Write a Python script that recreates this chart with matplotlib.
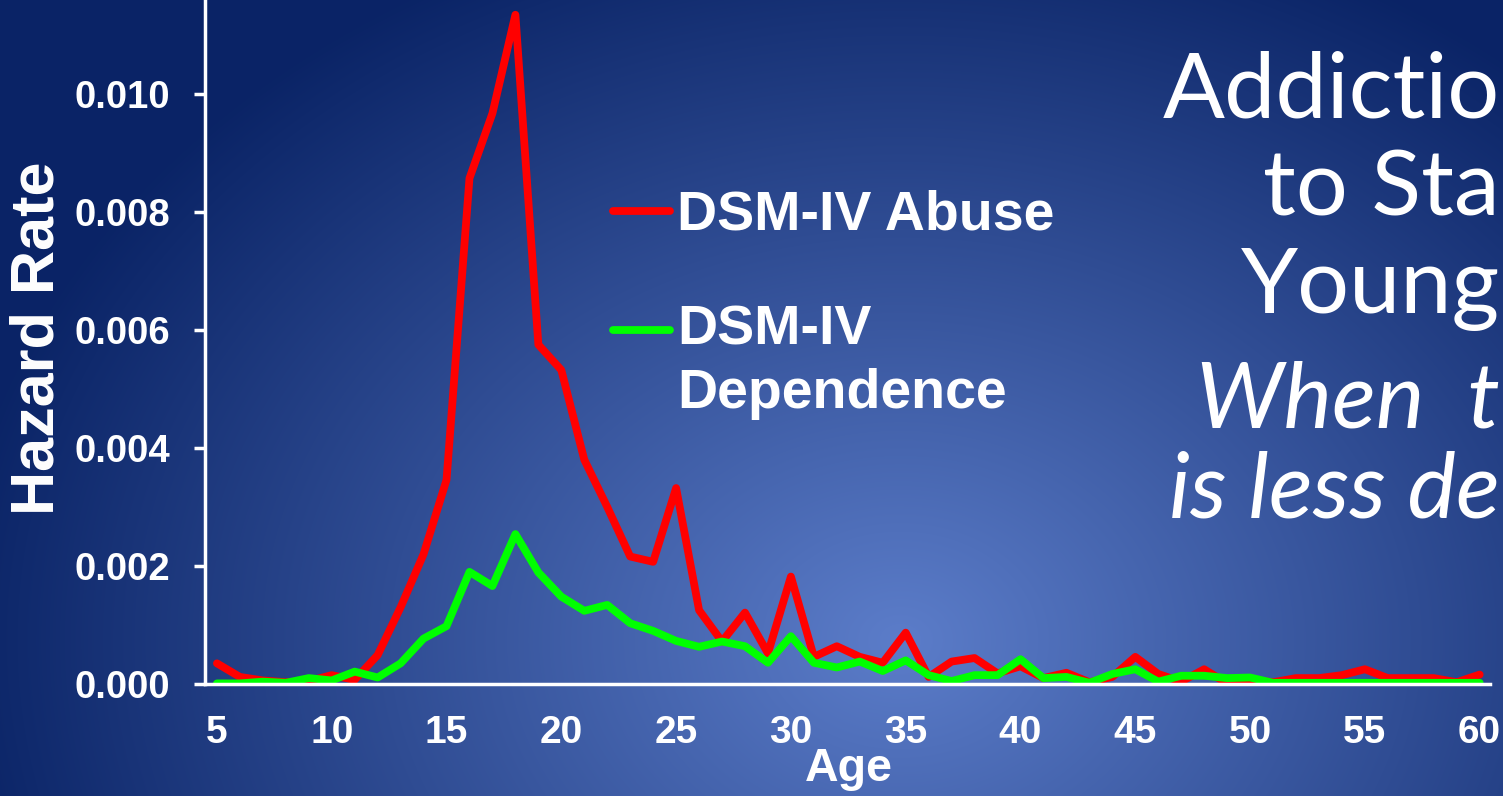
import numpy as np
import matplotlib
matplotlib.use("Agg")
import matplotlib.pyplot as plt
import matplotlib.transforms as mtransforms
from matplotlib.legend_handler import HandlerLine2D

ages = list(range(5, 61))
abuse = [0.00035, 0.00012, 0.00006, 0.00003, 0.00005, 0.00015, 0.00007, 0.00049,
         0.00130, 0.00220, 0.00346, 0.00857, 0.00967, 0.01134, 0.00575, 0.00532,
         0.00380, 0.00300, 0.00216, 0.00207, 0.00332, 0.00125, 0.00072, 0.00121,
         0.00052, 0.00182, 0.00046, 0.00064, 0.00046, 0.00036, 0.00087, 0.00012,
         0.00038, 0.00044, 0.00018, 0.00030, 0.00010, 0.00019, 0.00003, 0.00012,
         0.00046, 0.00017, 0.00004, 0.00025, 0.00001, 0.00007, 0.00003, 0.00010,
         0.00010, 0.00015, 0.00025, 0.00010, 0.00010, 0.00010, 0.00003, 0.00016]
dependence = [0.00001, 0.00001, 0.00004, 0.00002, 0.00010, 0.00006, 0.00021, 0.00011,
              0.00035, 0.00077, 0.00098, 0.00190, 0.00166, 0.00254, 0.00189, 0.00148,
              0.00124, 0.00134, 0.00103, 0.00090, 0.00073, 0.00063, 0.00072, 0.00064,
              0.00036, 0.00081, 0.00036, 0.00028, 0.00038, 0.00022, 0.00040, 0.00015,
              0.00005, 0.00015, 0.00015, 0.00042, 0.00010, 0.00012, 0.00002, 0.00017,
              0.00025, 0.00004, 0.00014, 0.00014, 0.00010, 0.00011, 0.00002, 0.00002,
              0.00002, 0.00002, 0.00002, 0.00002, 0.00002, 0.00002, 0.00002, 0.00002]
xticks = list(range(5, 61, 5))
yticks = [0.000, 0.002, 0.004, 0.006, 0.008, 0.010]
side_lines = ["Addictio", "to Sta", "Young", "When  t", "is less de"]

W, H = 1503, 796
fig = plt.figure(figsize=(W / 100, H / 100), dpi=100)

# radial blue background
bg = fig.add_axes([0, 0, 1, 1], zorder=-10)
yy, xx = np.mgrid[0:H, 0:W]
r = np.sqrt(((xx - 900) / 950.0) ** 2 + ((yy - 640) / 750.0) ** 2)
f = np.clip(r, 0, 1)[..., None]
c0 = np.array([0.36, 0.49, 0.79])
c1 = np.array([0.04, 0.14, 0.40])
bg.imshow(c0 + (c1 - c0) * f, aspect="auto")
bg.axis("off")

ax = fig.add_axes([205 / W, 112 / H, 1285 / W, 684 / H])
ax.patch.set_alpha(0)
red, = ax.plot(ages, abuse, color="#ff0000", lw=5.6, solid_capstyle="round",
               solid_joinstyle="round", label="DSM-IV Abuse")
green, = ax.plot(ages, dependence, color="#00ff00", lw=5.6, solid_capstyle="round",
                 solid_joinstyle="round", label="DSM-IV\nDependence")
ax.set_xlim(4.48, 60.45)
ax.set_ylim(0, 0.01159)
ax.set_xticks(xticks)
ax.set_yticks(yticks)
ax.set_yticklabels([f"{v:.3f}" for v in yticks])

for s in ["top", "right"]:
    ax.spines[s].set_visible(False)
for s in ["left", "bottom"]:
    ax.spines[s].set_color("white")
    ax.spines[s].set_linewidth(2.5)

ax.tick_params(axis="x", length=0, pad=22, colors="white", labelsize=28)
ax.tick_params(axis="y", length=8, width=2.5, pad=17, colors="white", labelsize=27.5)
for t in ax.get_xticklabels() + ax.get_yticklabels():
    t.set_fontfamily("Liberation Sans")
    t.set_fontweight("bold")

fig.text(38 / W, 1 - 338 / H, "Hazard Rate", rotation=90, ha="center", va="center",
         color="white", fontsize=44, fontweight="bold", family="Liberation Sans")
fig.text(849 / W, 1 - 769 / H, "Age", ha="center", va="center",
         color="white", fontsize=33.5, fontweight="bold", family="Liberation Sans")


# handle sits next to the first line of a two-line label
class FirstLineHandler(HandlerLine2D):
    def __init__(self, shift_pt, **kw):
        super().__init__(**kw)
        self.shift_pt = shift_pt

    def create_artists(self, legend, orig_handle, xdescent, ydescent, width,
                       height, fontsize, trans):
        arts = super().create_artists(legend, orig_handle, xdescent, ydescent,
                                      width, height, fontsize, trans)
        off = mtransforms.ScaledTranslation(0, self.shift_pt / 72, fig.dpi_scale_trans)
        for a in arts:
            a.set_transform(a.get_transform() + off)
        return arts


leg = ax.legend(loc="upper left", bbox_to_anchor=(613 / W, 1 - 190 / H),
                bbox_transform=fig.transFigure, frameon=False,
                handlelength=1.03, handletextpad=0.13, labelspacing=1.13,
                borderpad=0, borderaxespad=0,
                handler_map={green: FirstLineHandler(24)},
                prop={"family": "Liberation Sans", "weight": "bold", "size": 40})
for t in leg.get_texts():
    t.set_color("white")
    t.set_linespacing(1.28)

# slide title that runs off the right edge: keep the visible part inside
side_base = [117, 215, 313, 428, 518]
for i, txt in enumerate(side_lines):
    fig.text(1500 / W, 1 - side_base[i] / H, txt, ha="right", va="baseline",
             color="white", fontsize=66, family="Lato",
             style="italic" if i >= 3 else "normal")

fig.savefig("out.png", dpi=100)
